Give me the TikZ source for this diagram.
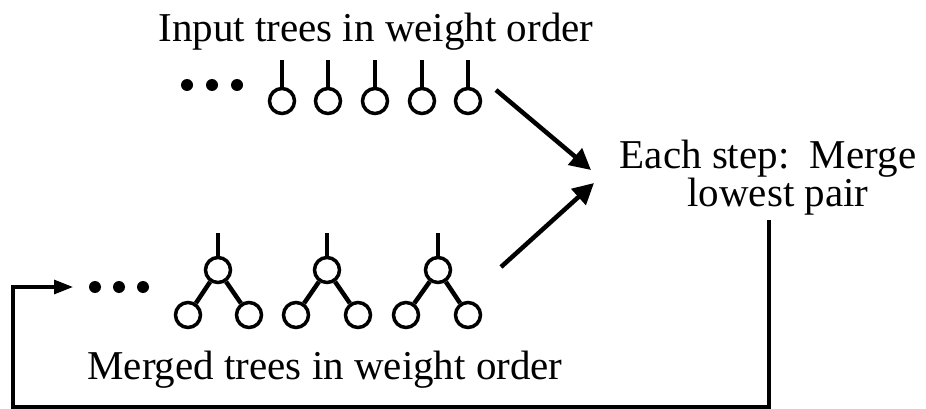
\documentclass[tikz,border=0pt]{standalone}
\usepackage{fontspec}
\setmainfont{Liberation Serif}
\usetikzlibrary{arrows.meta}

\tikzset{
  treenode/.style={circle, draw, line width=3.5pt, minimum size=25pt, inner sep=0pt},
  dotnode/.style={circle, fill, minimum size=12pt, inner sep=0pt},
  stem/.style={line width=3.2pt},
  branch/.style={line width=4.5pt},
  label/.style={font=\fontsize{41}{49}\selectfont, inner sep=0pt, anchor=base},
  feed/.style={line width=4.5pt, -{Triangle[length=21pt,width=21pt]}},
  loopback/.style={line width=3.2pt, -{Triangle[length=19pt,width=14pt]}}
}

\begin{document}
\begin{tikzpicture}[x=1pt, y=-1pt]
  \useasboundingbox (0,0) rectangle (926,409);

  % captions
  \node[label] (intitle) at (376,42) {Input trees in weight order};
  \node[label] (stepA) at (768,168) {Each step:\ \ Merge};
  \node[label] (stepB) at (778,206) {lowest pair};
  \node[label] (mergedtitle) at (325,379) {Merged trees in weight order};

  % input row: single-node trees
  \foreach \i/\x in {1/187,2/212,3/237} {
    \node[dotnode] (dotA\i) at (\x,85) {};
  }
  \foreach \i/\x in {1/282,2/328,3/375,4/422,5/468} {
    \node[treenode] (in\i) at (\x,101) {};
    \coordinate (inroot\i) at (\x,60);
    \draw[stem] (in\i.north) -- (inroot\i);
  }

  % merged row: two-leaf trees
  \foreach \i/\x in {1/95,2/119,3/143} {
    \node[dotnode] (dotB\i) at (\x,287) {};
  }
  \foreach \i/\x/\l/\r in {1/218/188/249, 2/327/296/358, 3/438/406/468} {
    \node[treenode] (root\i) at (\x,270) {};
    \node[treenode] (left\i) at (\l,315) {};
    \node[treenode] (right\i) at (\r,315) {};
    \coordinate (mtop\i) at (\x,233);
    \draw[stem] (root\i.north) -- (mtop\i);
    \draw[branch] (root\i) -- (left\i);
    \draw[branch] (root\i) -- (right\i);
  }

  % arrows into the merge step
  \coordinate (inarrowA) at (496,90);
  \coordinate (inarrowAtip) at (591,170);
  \coordinate (inarrowB) at (501,267);
  \coordinate (inarrowBtip) at (594,183);
  \draw[feed] (inarrowA) -- (inarrowAtip);
  \draw[feed] (inarrowB) -- (inarrowBtip);

  % result fed back to the merged row
  \coordinate (fbtop) at (769,220);
  \coordinate (fbcorner) at (13,407);
  \coordinate (fbtip) at (73,287);
  \draw[loopback] (fbtop) |- (fbcorner) |- (fbtip);
\end{tikzpicture}
\end{document}
